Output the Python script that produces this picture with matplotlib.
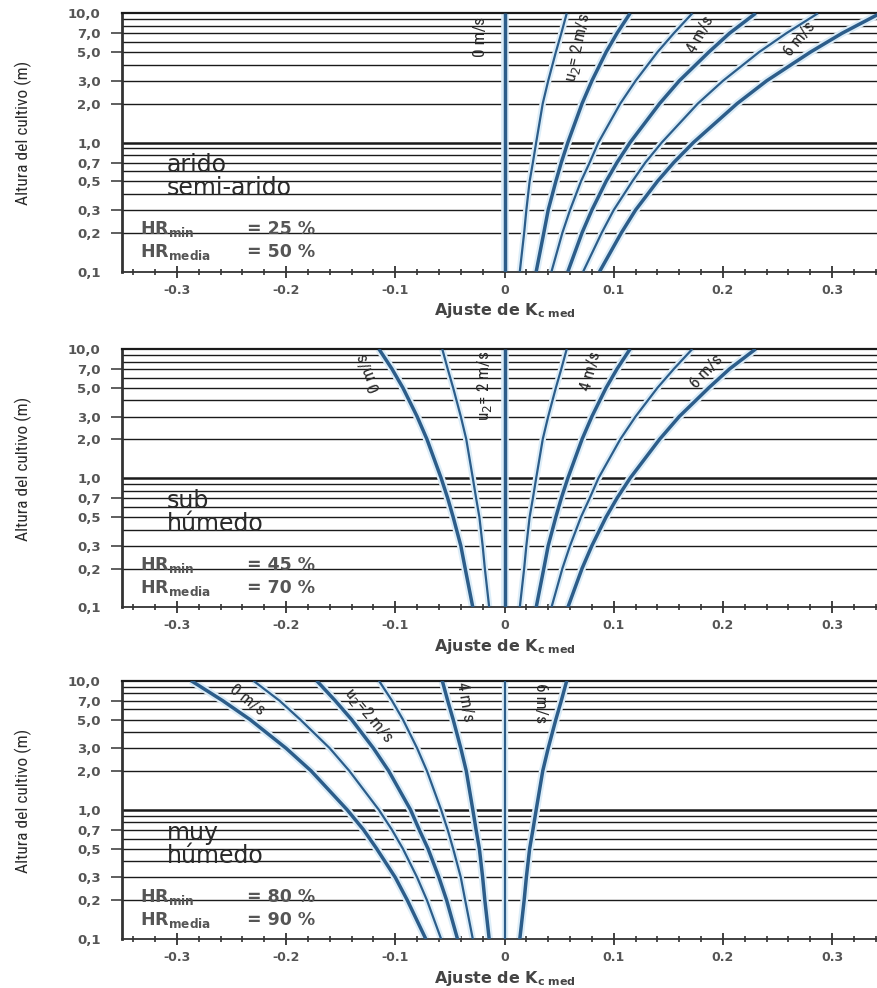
import matplotlib
matplotlib.use("Agg")
import matplotlib.pyplot as plt
from matplotlib.ticker import FixedLocator, NullFormatter, MultipleLocator

# ---------------- data ----------------
heights = [0.1, 0.2, 0.3, 0.5, 0.7, 1.0, 2.0, 3.0, 5.0, 7.0, 10.0]
wind_speeds = [0, 1, 2, 3, 4, 5, 6]

# Kc mid adjustment for each wind speed (rows: u2 = 0..6 m/s)
arido_kc = [
    [0.000, 0.000, 0.000, 0.000, 0.000, 0.000, 0.000, 0.000, 0.000, 0.000, 0.000],
    [0.014, 0.018, 0.020, 0.023, 0.026, 0.029, 0.035, 0.040, 0.047, 0.052, 0.057],
    [0.029, 0.036, 0.040, 0.047, 0.052, 0.058, 0.071, 0.080, 0.093, 0.103, 0.115],
    [0.043, 0.053, 0.060, 0.070, 0.078, 0.086, 0.106, 0.120, 0.140, 0.155, 0.172],
    [0.058, 0.071, 0.080, 0.093, 0.103, 0.115, 0.142, 0.160, 0.187, 0.206, 0.230],
    [0.072, 0.089, 0.100, 0.117, 0.129, 0.144, 0.177, 0.200, 0.233, 0.258, 0.287],
    [0.087, 0.107, 0.120, 0.140, 0.155, 0.173, 0.213, 0.240, 0.280, 0.309, 0.344],
]
subhumedo_kc = [
    [-0.029, -0.036, -0.040, -0.047, -0.052, -0.058, -0.071, -0.080, -0.093, -0.103, -0.115],
    [-0.014, -0.018, -0.020, -0.023, -0.026, -0.029, -0.035, -0.040, -0.047, -0.052, -0.057],
    [0.000, 0.000, 0.000, 0.000, 0.000, 0.000, 0.000, 0.000, 0.000, 0.000, 0.000],
    [0.014, 0.018, 0.020, 0.023, 0.026, 0.029, 0.035, 0.040, 0.047, 0.052, 0.057],
    [0.029, 0.036, 0.040, 0.047, 0.052, 0.058, 0.071, 0.080, 0.093, 0.103, 0.115],
    [0.043, 0.053, 0.060, 0.070, 0.078, 0.086, 0.106, 0.120, 0.140, 0.155, 0.172],
    [0.058, 0.071, 0.080, 0.093, 0.103, 0.115, 0.142, 0.160, 0.187, 0.206, 0.230],
]
muyhumedo_kc = [
    [-0.072, -0.089, -0.100, -0.117, -0.129, -0.144, -0.177, -0.200, -0.233, -0.258, -0.287],
    [-0.058, -0.071, -0.080, -0.093, -0.103, -0.115, -0.142, -0.160, -0.187, -0.206, -0.230],
    [-0.043, -0.053, -0.060, -0.070, -0.078, -0.086, -0.106, -0.120, -0.140, -0.155, -0.172],
    [-0.029, -0.036, -0.040, -0.047, -0.052, -0.058, -0.071, -0.080, -0.093, -0.103, -0.115],
    [-0.014, -0.018, -0.020, -0.023, -0.026, -0.029, -0.035, -0.040, -0.047, -0.052, -0.057],
    [0.000, 0.000, 0.000, 0.000, 0.000, 0.000, 0.000, 0.000, 0.000, 0.000, 0.000],
    [0.014, 0.018, 0.020, 0.023, 0.026, 0.029, 0.035, 0.040, 0.047, 0.052, 0.057],
]

climate_names = [("arido", "semi-arido"), ("sub", "húmedo"), ("muy", "húmedo")]
hr_min = [25, 45, 80]
hr_media = [50, 70, 90]

xtick_values = [-0.3, -0.2, -0.1, 0.0, 0.1, 0.2, 0.3]
xtick_labels = ["-0.3", "-0.2", "-0.1", "0", "0.1", "0.2", "0.3"]
ytick_values = [0.1, 0.2, 0.3, 0.5, 0.7, 1.0, 2.0, 3.0, 5.0, 7.0, 10.0]
ytick_labels = ["0,1", "0,2", "0,3", "0,5", "0,7", "1,0", "2,0", "3,0", "5,0", "7,0", "10,0"]
ytick_marks = [0.2, 0.3, 0.5, 0.7, 2.0, 3.0, 5.0, 7.0]
grid_levels = [0.2, 0.3, 0.4, 0.5, 0.6, 0.7, 0.8, 0.9, 1.0, 2.0, 3.0, 4.0, 5.0, 6.0, 7.0, 8.0, 9.0]

# curve labels: (text, x, height, rotation)
curve_labels = [
    [("0 m/s", -0.022, 6.56, 90), ("u$_2$= 2 m/s", 0.067, 5.38, 78),
     ("4 m/s", 0.180, 6.79, 62), ("6 m/s", 0.270, 6.32, 50)],
    [("0 m/s", -0.124, 6.64, 112), ("u$_2$= 2 m/s", -0.018, 5.17, 90),
     ("4 m/s", 0.079, 6.76, 75), ("6 m/s", 0.185, 6.64, 47)],
    [("0 m/s", -0.236, 7.09, -38), ("u$_2$=2 m/s", -0.124, 5.43, -50),
     ("4 m/s", -0.036, 6.84, -80), ("6 m/s", 0.033, 6.72, -90)],
]

panels_kc = [arido_kc, subhumedo_kc, muyhumedo_kc]

# ---------------- figure ----------------
W, H = 878, 988
fig = plt.figure(figsize=(W / 100, H / 100), dpi=100)
fig.patch.set_facecolor("white")

narrow = ["Roboto Condensed", "Liberation Sans Narrow", "DejaVu Sans"]

ax_left = 122.3 / W
ax_width = 764.4 / W
ax_height = 258.4 / H
panel_tops = [13.3, 349.0, 680.7]

curve_color = "#2c5d8a"
halo_color = "#dcedf8"
text_dark = "#2a2a2a"
text_gray = "#555555"

for p, kc in enumerate(panels_kc):
    top = panel_tops[p]
    bottom = (H - (top + 258.4)) / H
    ax = fig.add_axes([ax_left, bottom, ax_width, ax_height])
    ax.set_yscale("log")
    ax.set_xlim(-0.35, 0.35)
    ax.set_ylim(0.1, 10)

    # horizontal grid
    for g in grid_levels:
        ax.axhline(g, color="#1a1a1a", lw=1.8 if g == 1.0 else 1.0, zorder=1)

    # curves
    for u, xs in zip(wind_speeds, kc):
        lw = 2.5 if u % 2 == 0 else 1.6
        ax.plot(xs, heights, color=halo_color, lw=lw + 3, zorder=2,
                solid_capstyle="butt")
    for u, xs in zip(wind_speeds, kc):
        lw = 2.5 if u % 2 == 0 else 1.6
        ax.plot(xs, heights, color=curve_color, lw=lw, zorder=3,
                solid_capstyle="butt")

    # curve labels
    for txt, x, y, rot in curve_labels[p]:
        ax.text(x, y, txt, rotation=rot, rotation_mode="anchor",
                ha="center", va="center", fontsize=12.5,
                family=narrow, stretch="condensed",
                color=text_dark, zorder=4)

    # climate labels
    n1, n2 = climate_names[p]
    ax.text(0.0585, 0.412, n1, transform=ax.transAxes, ha="left", va="center",
            fontsize=17, color=text_dark, zorder=4)
    ax.text(0.0585, 0.322, n2, transform=ax.transAxes, ha="left", va="center",
            fontsize=17, color=text_dark, zorder=4)
    ax.text(0.023, 0.164, r"HR$_{\mathregular{min}}$", transform=ax.transAxes,
            ha="left", va="center", fontsize=12.5, color=text_gray,
            fontweight="bold", zorder=4)
    ax.text(0.163, 0.164, f"= {hr_min[p]} %", transform=ax.transAxes,
            ha="left", va="center", fontsize=12.5, color=text_gray,
            fontweight="bold", zorder=4)
    ax.text(0.023, 0.075, r"HR$_{\mathregular{media}}$", transform=ax.transAxes,
            ha="left", va="center", fontsize=12.5, color=text_gray,
            fontweight="bold", zorder=4)
    ax.text(0.163, 0.075, f"= {hr_media[p]} %", transform=ax.transAxes,
            ha="left", va="center", fontsize=12.5, color=text_gray,
            fontweight="bold", zorder=4)

    # spines
    ax.spines["right"].set_visible(False)
    ax.spines["left"].set_linewidth(2.0)
    ax.spines["left"].set_color("#333333")
    ax.spines["top"].set_linewidth(1.6)
    ax.spines["top"].set_color("#1a1a1a")
    ax.spines["bottom"].set_linewidth(1.3)
    ax.spines["bottom"].set_color("#333333")

    # x ticks
    ax.set_xticks(xtick_values, xtick_labels)
    ax.xaxis.set_minor_locator(MultipleLocator(0.02))
    ax.tick_params(axis="x", which="major", direction="inout", length=9,
                   width=1.3, color="#333333", labelsize=9,
                   labelcolor=text_gray, pad=4)
    ax.tick_params(axis="x", which="minor", direction="inout", length=5,
                   width=1.2, color="#333333")
    for lbl in ax.get_xticklabels():
        lbl.set_fontweight("bold")

    # y ticks
    ax.yaxis.remove_overlapping_locs = False
    ax.yaxis.set_major_locator(FixedLocator(ytick_values))
    ax.set_yticklabels(ytick_labels)
    ax.yaxis.set_minor_locator(FixedLocator(ytick_marks))
    ax.yaxis.set_minor_formatter(NullFormatter())
    ax.tick_params(axis="y", which="major", length=0, pad=15.5,
                   labelsize=9.5, labelcolor=text_gray)
    ax.tick_params(axis="y", which="minor", direction="out", length=8,
                   width=1.1, color="#333333")
    for lbl in ax.get_yticklabels():
        lbl.set_fontweight("bold")

    # axis labels
    ax.set_xlabel(r"Ajuste de K$_{\mathregular{c\ med}}$", fontsize=11.5,
                  fontweight="bold", color="#444444", va="center")
    ax.xaxis.set_label_coords(0.5, -0.151)
    ax.set_ylabel("Altura del cultivo (m)", fontsize=12.5,
                  family=narrow, stretch="condensed",
                  color=text_dark, va="center")
    ax.yaxis.set_label_coords(-0.130, 0.536)

fig.savefig("out.png", dpi=100)
